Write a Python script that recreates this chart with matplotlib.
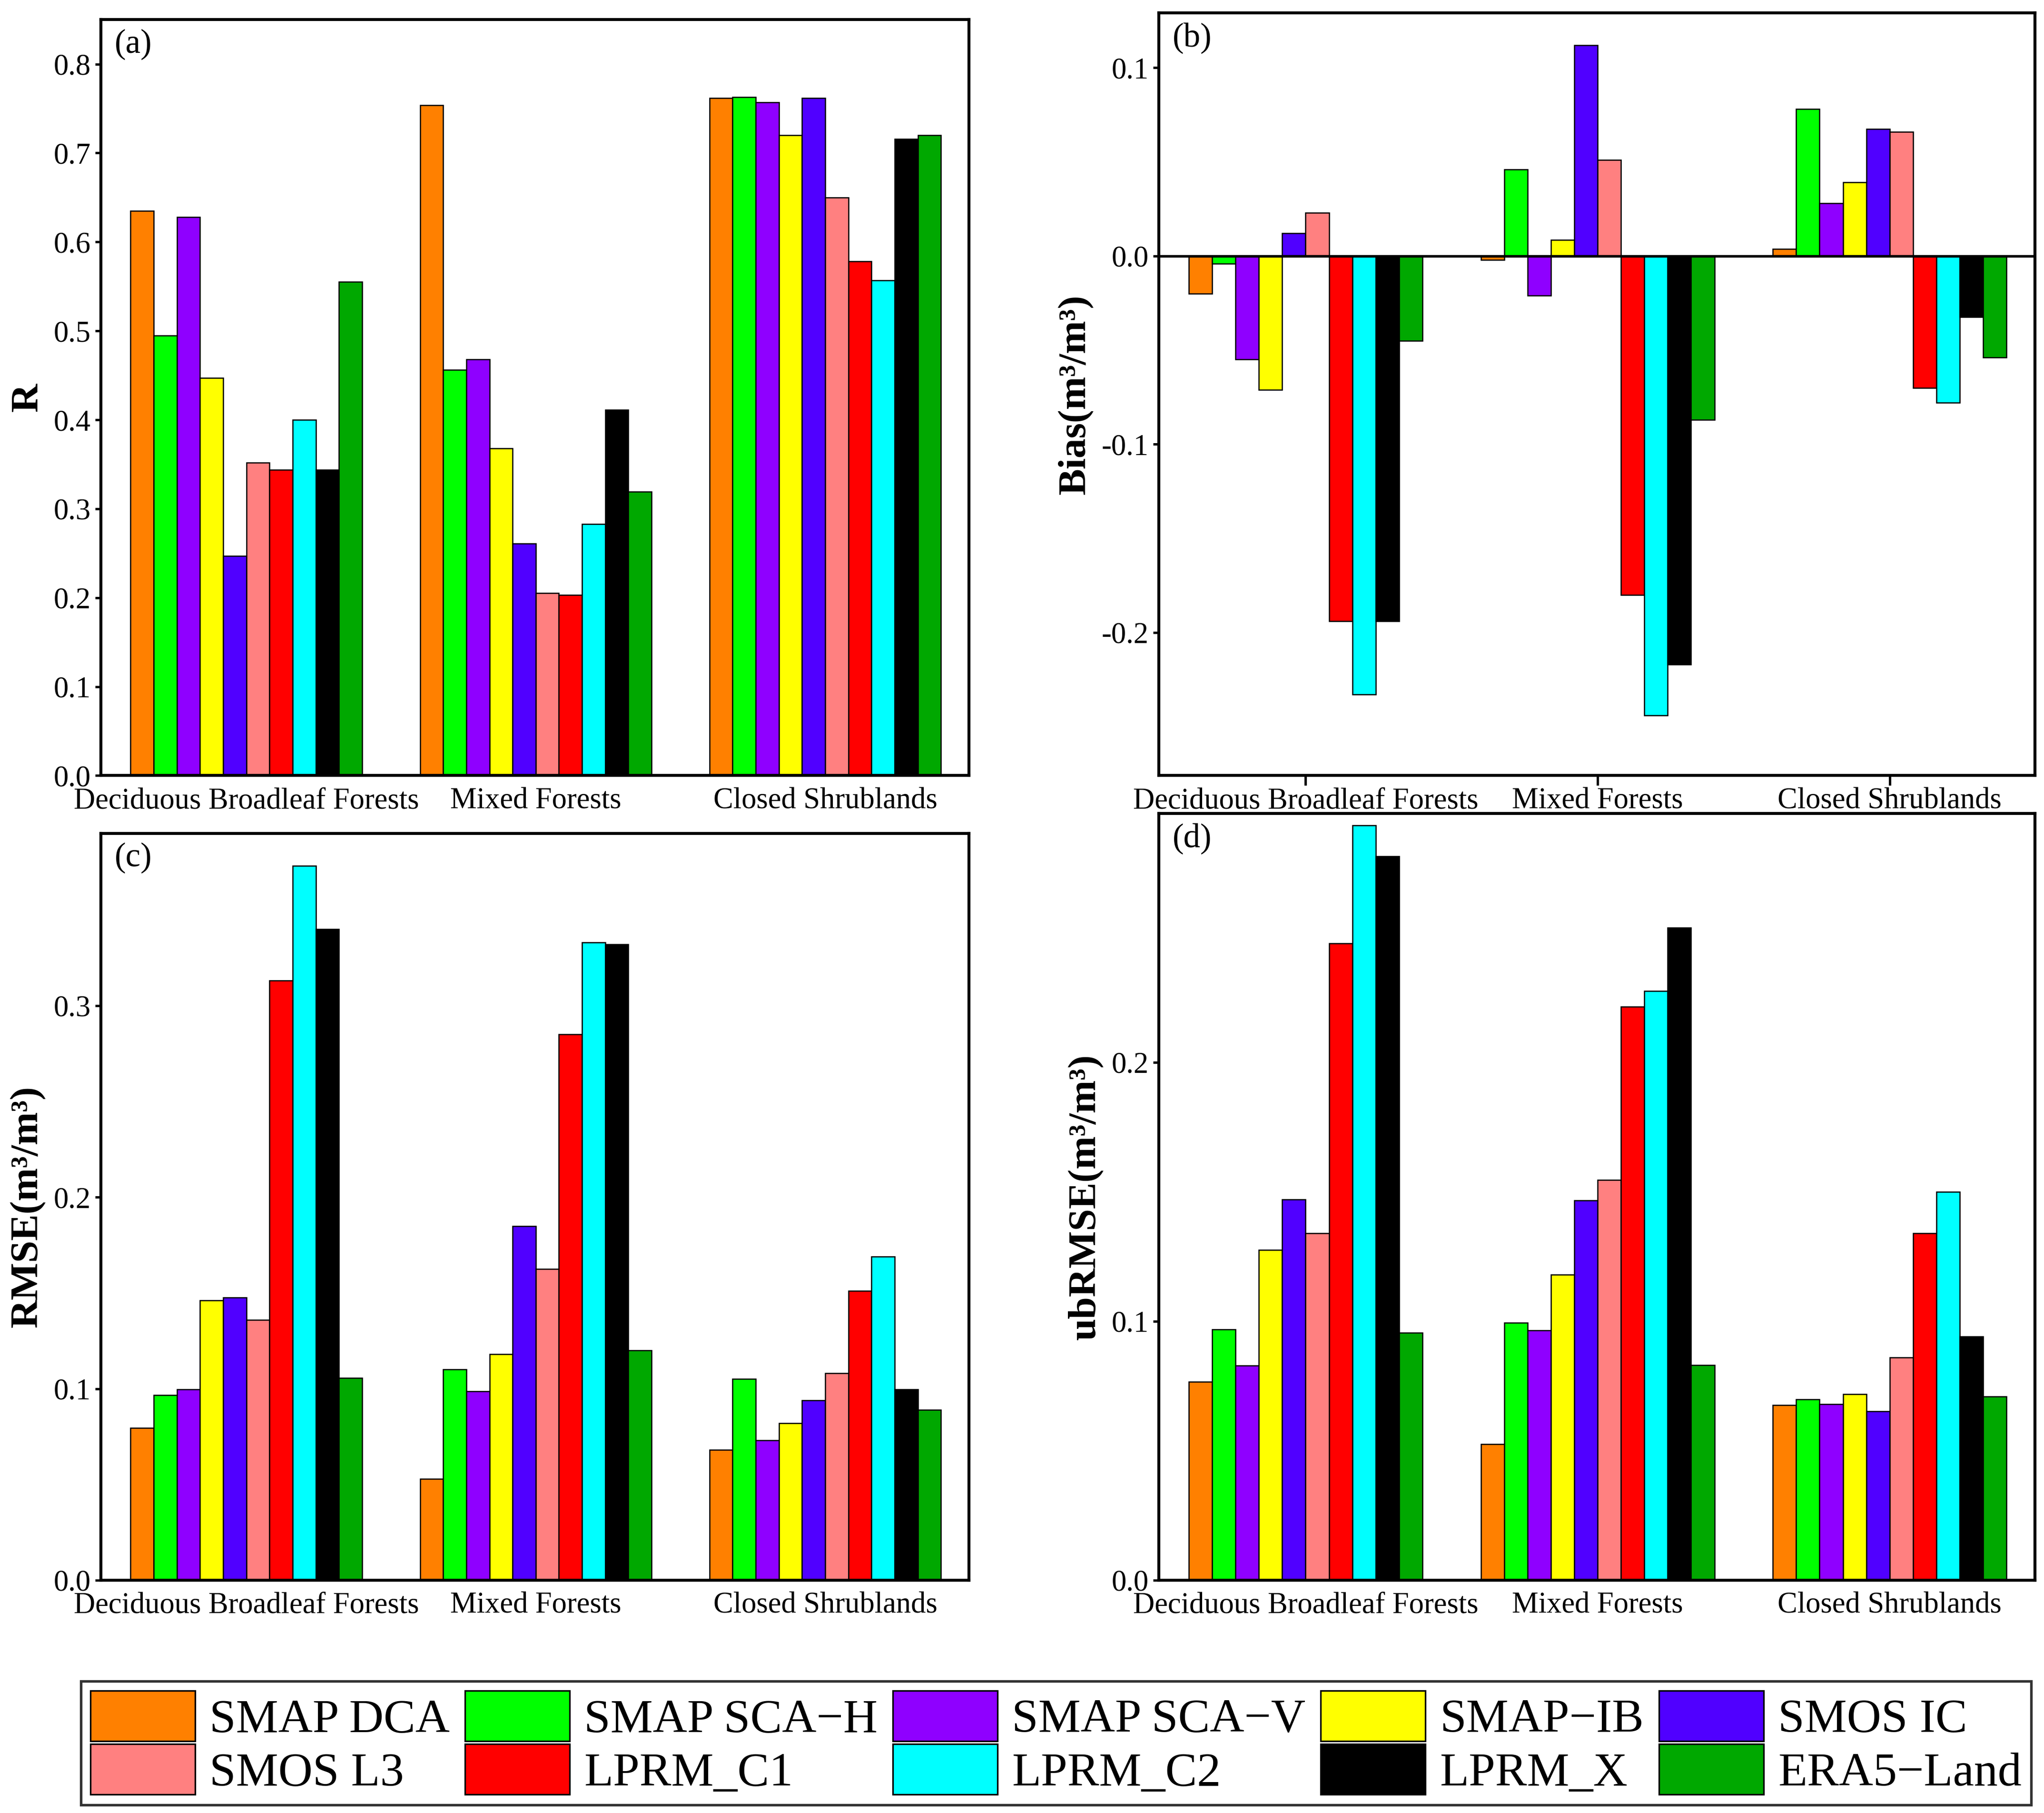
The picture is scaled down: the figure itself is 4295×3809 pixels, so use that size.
import numpy as np
import matplotlib
matplotlib.use("Agg")
import matplotlib.pyplot as plt
from matplotlib.patches import Patch
from matplotlib.ticker import FuncFormatter

plt.rcParams["font.family"] = ["Liberation Serif", "DejaVu Serif"]

categories = ["Deciduous Broadleaf Forests", "Mixed Forests", "Closed Shrublands"]
products = ["SMAP DCA", "SMAP SCA\u2212H", "SMAP SCA\u2212V", "SMAP\u2212IB", "SMOS IC",
            "SMOS L3", "LPRM_C1", "LPRM_C2", "LPRM_X", "ERA5\u2212Land"]
colors = ["#FF8000", "#00FF00", "#8F00FF", "#FFFF00", "#5000FF",
          "#FF8080", "#FF0000", "#00FFFF", "#000000", "#00A800"]

# rows = products, cols = categories
r_vals = [
    [0.635, 0.754, 0.762],
    [0.495, 0.456, 0.763],
    [0.628, 0.468, 0.757],
    [0.447, 0.368, 0.720],
    [0.247, 0.261, 0.762],
    [0.352, 0.205, 0.650],
    [0.344, 0.203, 0.578],
    [0.400, 0.283, 0.557],
    [0.344, 0.411, 0.716],
    [0.555, 0.319, 0.720],
]
bias_vals = [
    [-0.020, -0.002, 0.0037],
    [-0.004, 0.046, 0.078],
    [-0.055, -0.021, 0.028],
    [-0.071, 0.0085, 0.039],
    [0.012, 0.112, 0.0675],
    [0.023, 0.051, 0.066],
    [-0.194, -0.180, -0.070],
    [-0.233, -0.244, -0.078],
    [-0.194, -0.217, -0.0325],
    [-0.045, -0.087, -0.054],
]
rmse_vals = [
    [0.0795, 0.053, 0.068],
    [0.0967, 0.110, 0.105],
    [0.0997, 0.0986, 0.073],
    [0.146, 0.118, 0.082],
    [0.1475, 0.185, 0.094],
    [0.136, 0.1625, 0.108],
    [0.313, 0.285, 0.151],
    [0.373, 0.333, 0.169],
    [0.340, 0.332, 0.0997],
    [0.1055, 0.120, 0.089],
]
ubrmse_vals = [
    [0.0767, 0.0525, 0.0676],
    [0.0969, 0.0994, 0.0698],
    [0.0829, 0.0965, 0.068],
    [0.1275, 0.118, 0.0719],
    [0.147, 0.1467, 0.0653],
    [0.134, 0.1545, 0.086],
    [0.246, 0.2215, 0.134],
    [0.2915, 0.2275, 0.150],
    [0.2795, 0.252, 0.094],
    [0.0955, 0.083, 0.0709],
]

panels = [
    # (data, ylabel, tag, ylim, yticks, axes rect)
    (r_vals, "R", "(a)", (0, 0.85), np.arange(0, 0.81, 0.1),
     [0.0493, 0.5722, 0.4248, 0.4170]),
    (bias_vals, "Bias(m\u00b3/m\u00b3)", "(b)", (-0.276, 0.129), [-0.2, -0.1, 0.0, 0.1],
     [0.5669, 0.5722, 0.4286, 0.4206]),
    (rmse_vals, "RMSE(m\u00b3/m\u00b3)", "(c)", (0, 0.39), [0.0, 0.1, 0.2, 0.3],
     [0.0493, 0.1284, 0.4248, 0.4120]),
    (ubrmse_vals, "ubRMSE(m\u00b3/m\u00b3)", "(d)", (0, 0.296), [0.0, 0.1, 0.2],
     [0.5669, 0.1284, 0.4286, 0.4228]),
]

fig = plt.figure(figsize=(4295 / 300, 3809 / 300), dpi=300)

x = np.arange(len(categories))
n = len(products)
bw = 0.8 / n
fmt = FuncFormatter(lambda v, p: f"{v:.1f}".replace("\u2212", "-"))

for data, ylab, tag, ylim, yticks, rect in panels:
    ax = fig.add_axes(rect)
    for i in range(n):
        ax.bar(x - 0.4 + bw * (i + 0.5), data[i], width=bw, color=colors[i],
               edgecolor="black", linewidth=0.6, zorder=2)
    if tag == "(b)":
        ax.axhline(0, color="black", lw=1.3, zorder=3)
        ax.tick_params(axis="x", length=5, width=1.2, direction="out", pad=1)
    else:
        ax.tick_params(axis="x", length=0, pad=6)
    ax.set_xlim(-0.503, 2.497)
    ax.set_ylim(*ylim)
    ax.set_yticks(yticks)
    ax.yaxis.set_major_formatter(fmt)
    ax.set_xticks(x)
    ax.set_xticklabels(categories)
    ax.tick_params(axis="y", length=3, width=1.2, direction="out", pad=2)
    ax.tick_params(labelsize=15)
    ax.set_ylabel(ylab, fontsize=20, fontweight="bold", labelpad=4)
    for s in ax.spines.values():
        s.set_linewidth(1.5)
    ax.text(0.016, 0.988, tag, transform=ax.transAxes, ha="left", va="top", fontsize=17)

# legend fills column-wise, so reorder to read row-wise like the original
order = [0, 5, 1, 6, 2, 7, 3, 8, 4, 9]
handles = [Patch(facecolor=colors[i], edgecolor="black", linewidth=0.8) for i in order]
labels = [products[i] for i in order]
leg = fig.legend(handles, labels, loc="lower left",
                 bbox_to_anchor=(0.0396, 0.0045, 0.9541, 0.0693), mode="expand",
                 ncol=5, fontsize=24, frameon=True, fancybox=False, edgecolor="black",
                 handlelength=2.2, handleheight=1.25, handletextpad=0.3,
                 columnspacing=0.4, labelspacing=0.05, borderpad=0.2, borderaxespad=0)
leg.get_frame().set_linewidth(1.3)

fig.savefig("out.png", dpi=300, facecolor="white")
